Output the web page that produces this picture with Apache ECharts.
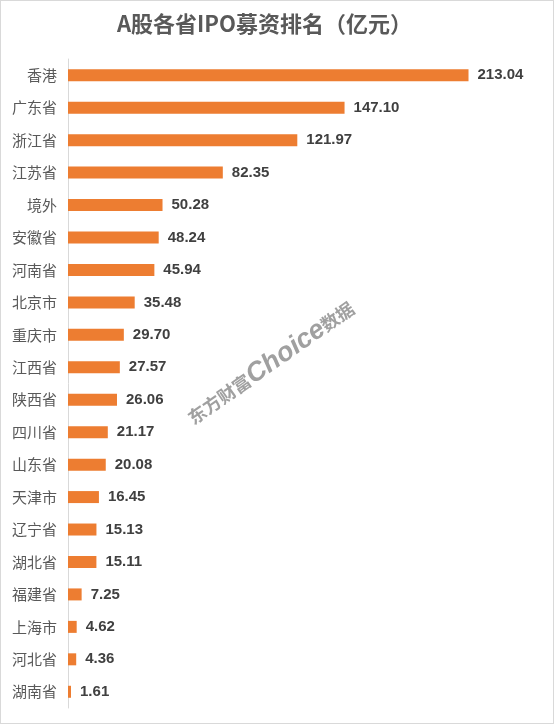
<!DOCTYPE html>
<html><head><meta charset="utf-8">
<script src="https://cdn.jsdelivr.net/npm/echarts@6/dist/echarts.min.js"></script>
<style>html,body{margin:0;padding:0;background:#fff}#c{width:554px;height:724px;box-sizing:border-box;border:1px solid #d9d9d9}</style>
</head><body><div id="c"></div>
<script>
const categories = ['香港','广东省','浙江省','江苏省','境外','安徽省','河南省','北京市','重庆市','江西省','陕西省','四川省','山东省','天津市','辽宁省','湖北省','福建省','上海市','河北省','湖南省'];
const values = [213.04,147.10,121.97,82.35,50.28,48.24,45.94,35.48,29.70,27.57,26.06,21.17,20.08,16.45,15.13,15.11,7.25,4.62,4.36,1.61];
const titleText = 'A股各省IPO募资排名（亿元）';

const chart = echarts.init(document.getElementById('c'), null, {renderer:'canvas'});
chart.setOption({
  backgroundColor:'#fff',
  animation:false,
  title:{text:titleText,left:111,top:7,textStyle:{fontFamily:'Noto Sans CJK SC',fontSize:22,fontWeight:'bold',color:'#595959'}},
  grid:{left:67,right:15,top:58,bottom:15,containLabel:false},
  xAxis:{type:'value',min:0,max:250,show:false},
  yAxis:{type:'category',data:categories,inverse:true,
    axisLine:{show:true,lineStyle:{color:'#d9d9d9',width:1}},
    axisTick:{show:false},
    axisLabel:{fontFamily:'Noto Sans CJK SC',fontSize:15,color:'#595959',margin:11}},
  series:[{type:'bar',data:values,barWidth:12,itemStyle:{color:'#ED7D31'},
    label:{show:true,position:'right',distance:9,formatter:p=>p.value.toFixed(2),
      fontFamily:'Liberation Sans',fontWeight:'bold',fontSize:15,color:'#404040'}}],
  graphic:[{type:'text',x:270,y:362,rotation:35*Math.PI/180,
    style:{text:'{a|东方财富}{b|Choice}{a|数据}',align:'center',verticalAlign:'middle',
      rich:{a:{fontFamily:'Noto Sans CJK SC',fontSize:18,fontWeight:'bold',fill:'#a0a0a0'},
            b:{fontFamily:'Liberation Sans',fontSize:27,fontWeight:'bold',fontStyle:'italic',fill:'#a0a0a0'}}},
    z:100}]
});
</script></body></html>
